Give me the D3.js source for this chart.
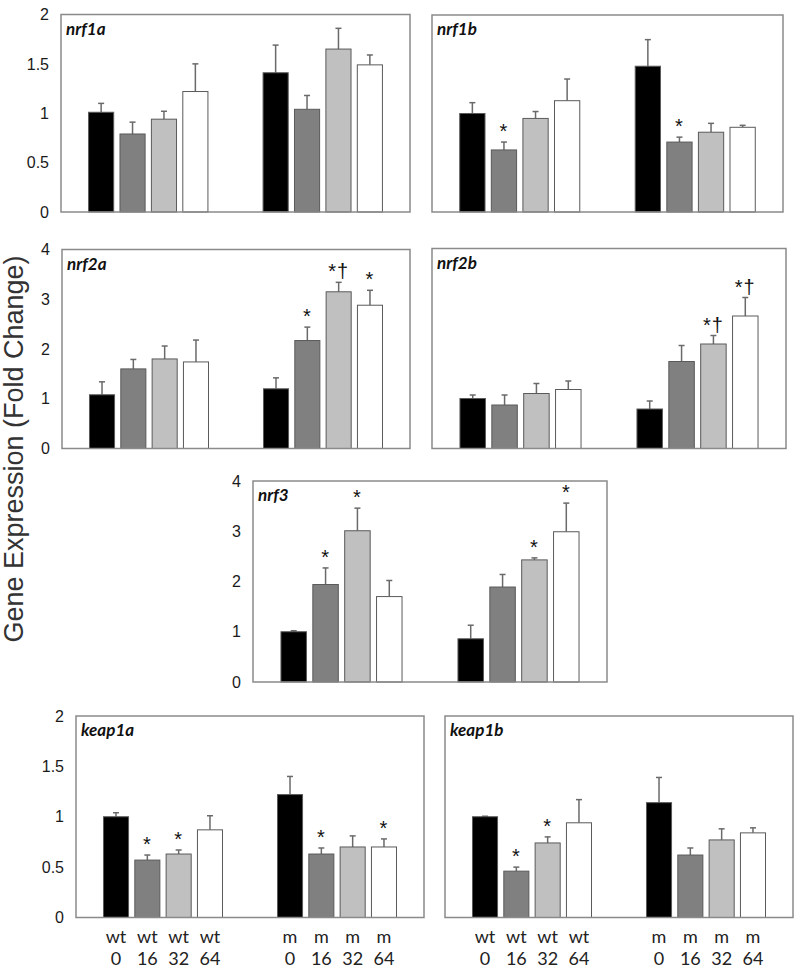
<!DOCTYPE html>
<html>
<head>
<meta charset="utf-8">
<script src="https://cdn.jsdelivr.net/npm/d3@7"></script>
<style>
  body { margin: 0; background: #fff; }
</style>
</head>
<body>
<div id="chart"></div>
<script>
// groups and doses on the x axis
var strains = ["wt", "m"];
var doses = ["0", "16", "32", "64"];

// y tick labels
var ticks2 = [0, 0.5, 1, 1.5, 2];
var ticks4 = [0, 1, 2, 3, 4];

// fold change means (wt 0,16,32,64 then m 0,16,32,64), upper error and marks
var nrf1aMean = [1.01, 0.79, 0.94, 1.22, 1.41, 1.04, 1.65, 1.49];
var nrf1aErr  = [0.09, 0.12, 0.08, 0.28, 0.28, 0.14, 0.21, 0.10];
var nrf1aSig  = ["", "", "", "", "", "", "", ""];

var nrf1bMean = [1.00, 0.63, 0.95, 1.13, 1.48, 0.71, 0.81, 0.86];
var nrf1bErr  = [0.11, 0.08, 0.07, 0.22, 0.27, 0.05, 0.09, 0.02];
var nrf1bSig  = ["", "*", "", "", "", "*", "", ""];

var nrf2aMean = [1.08, 1.60, 1.80, 1.74, 1.20, 2.17, 3.15, 2.88];
var nrf2aErr  = [0.26, 0.19, 0.26, 0.44, 0.22, 0.27, 0.19, 0.30];
var nrf2aSig  = ["", "", "", "", "", "*", "*†", "*"];

var nrf2bMean = [1.00, 0.87, 1.10, 1.18, 0.79, 1.74, 2.09, 2.65];
var nrf2bErr  = [0.07, 0.20, 0.20, 0.17, 0.16, 0.32, 0.17, 0.37];
var nrf2bSig  = ["", "", "", "", "", "", "*†", "*†"];

var nrf3Mean  = [1.00, 1.94, 3.01, 1.70, 0.86, 1.89, 2.43, 2.99];
var nrf3Err   = [0.02, 0.33, 0.45, 0.32, 0.27, 0.25, 0.04, 0.57];
var nrf3Sig   = ["", "*", "*", "", "", "", "*", "*"];

var keap1aMean = [1.00, 0.57, 0.63, 0.87, 1.22, 0.63, 0.70, 0.70];
var keap1aErr  = [0.04, 0.05, 0.04, 0.14, 0.18, 0.06, 0.11, 0.08];
var keap1aSig  = ["", "*", "*", "", "", "*", "", "*"];

var keap1bMean = [1.00, 0.46, 0.74, 0.94, 1.14, 0.62, 0.77, 0.84];
var keap1bErr  = [0.005, 0.04, 0.06, 0.23, 0.25, 0.07, 0.11, 0.05];
var keap1bSig  = ["", "*", "*", "", "", "", "", ""];

var fills = ["#000000", "#808080", "#c0c0c0", "#ffffff"];

// where each panel sits on the page
var panels = [
  {gene: "nrf1a", mean: nrf1aMean, err: nrf1aErr, sig: nrf1aSig, ticks: ticks2, left: 61, top: 14.5, w: 349, h: 197.5, axis: true, labels: false},
  {gene: "nrf1b", mean: nrf1bMean, err: nrf1bErr, sig: nrf1bSig, ticks: ticks2, left: 432, top: 15, w: 351, h: 197, axis: false, labels: false},
  {gene: "nrf2a", mean: nrf2aMean, err: nrf2aErr, sig: nrf2aSig, ticks: ticks4, left: 62, top: 249.5, w: 348, h: 199, axis: true, labels: false},
  {gene: "nrf2b", mean: nrf2bMean, err: nrf2bErr, sig: nrf2bSig, ticks: ticks4, left: 432, top: 248.5, w: 354, h: 200, axis: false, labels: false},
  {gene: "nrf3", mean: nrf3Mean, err: nrf3Err, sig: nrf3Sig, ticks: ticks4, left: 253, top: 481, w: 354, h: 201, axis: true, labels: false},
  {gene: "keap1a", mean: keap1aMean, err: keap1aErr, sig: keap1aSig, ticks: ticks2, left: 76, top: 716, w: 348, h: 201.5, axis: true, labels: true},
  {gene: "keap1b", mean: keap1bMean, err: keap1bErr, sig: keap1bSig, ticks: ticks2, left: 445, top: 716, w: 348, h: 201.5, axis: false, labels: true}
];

var svg = d3.select("#chart")
  .append("svg")
    .attr("width", 800)
    .attr("height", 970);

panels.forEach(function(p) {
  var g = svg.append("g")
    .attr("transform", "translate(" + p.left + "," + p.top + ")");

  var y = d3.scaleLinear()
    .domain([0, p.ticks[p.ticks.length - 1]])
    .range([p.h, 0]);

  var x0 = d3.scaleBand()
    .domain(strains)
    .range([0, p.w])
    .paddingInner(0.28)
    .paddingOuter(0.14);

  var x1 = d3.scaleBand()
    .domain(doses)
    .range([0, x0.bandwidth()])
    .paddingInner(0.2)
    .paddingOuter(0.1);

  var rows = d3.cross(strains, doses).map(function(c, i) {
    return {strain: c[0], dose: c[1], i: i, mean: p.mean[i], err: p.err[i], sig: p.sig[i]};
  });

  function cx(d) { return x0(d.strain) + x1(d.dose) + x1.bandwidth() / 2; }

  if (p.axis) {
    var ax = g.append("g")
      .call(d3.axisLeft(y).tickValues(p.ticks).tickSize(0).tickPadding(12).tickFormat(d3.format("")));
    ax.select(".domain").remove();
    ax.selectAll("text")
      .style("font-family", "'Liberation Sans', Arial, sans-serif")
      .style("font-size", "16px")
      .attr("fill", "#1a1a1a");
  }

  // error bars (upper only)
  var eb = g.selectAll(".err")
    .data(rows)
    .enter()
    .append("g");
  eb.append("line")
    .attr("x1", cx).attr("x2", cx)
    .attr("y1", function(d) { return y(d.mean); })
    .attr("y2", function(d) { return y(d.mean + d.err); })
    .attr("stroke", "#6a6a6a")
    .attr("stroke-width", 1.5);
  eb.append("line")
    .attr("x1", function(d) { return cx(d) - 3; })
    .attr("x2", function(d) { return cx(d) + 3; })
    .attr("y1", function(d) { return y(d.mean + d.err); })
    .attr("y2", function(d) { return y(d.mean + d.err); })
    .attr("stroke", "#6a6a6a")
    .attr("stroke-width", 1.5);

  g.selectAll("rect.bar")
    .data(rows)
    .enter()
    .append("rect")
      .attr("class", "bar")
      .attr("x", function(d) { return x0(d.strain) + x1(d.dose); })
      .attr("y", function(d) { return y(d.mean); })
      .attr("width", x1.bandwidth())
      .attr("height", function(d) { return p.h - y(d.mean); })
      .attr("fill", function(d) { return fills[d.i % 4]; })
      .attr("stroke", "#5a5a5a")
      .attr("stroke-width", 1);

  // significance marks
  g.selectAll(".sig")
    .data(rows.filter(function(d) { return d.sig != ""; }))
    .enter()
    .append("text")
      .attr("x", cx)
      .attr("y", function(d) { return y(d.mean + d.err) - 4; })
      .attr("text-anchor", "middle")
      .style("font-family", "'Liberation Sans', Arial, sans-serif")
      .style("font-size", "20px")
      .style("letter-spacing", "1px")
      .attr("fill", "#111")
      .text(function(d) { return d.sig; });

  // frame
  g.append("rect")
    .attr("width", p.w)
    .attr("height", p.h)
    .attr("fill", "none")
    .attr("stroke", "#8a8a8a")
    .attr("stroke-width", 1.5);

  g.append("text")
    .attr("x", 5)
    .attr("y", 20)
    .style("font-family", "Lato, 'Open Sans', sans-serif")
    .style("font-weight", "bold")
    .style("font-style", "italic")
    .style("font-size", "17px")
    .attr("fill", "#111")
    .text(p.gene);

  if (p.labels) {
    var lab = g.selectAll(".xlab")
      .data(rows)
      .enter()
      .append("text")
        .attr("text-anchor", "middle")
        .style("font-family", "Lato, 'Open Sans', sans-serif")
        .style("font-size", "18px")
        .attr("fill", "#222");
    lab.append("tspan")
      .attr("x", cx)
      .attr("y", p.h + 25)
      .text(function(d) { return d.strain; });
    lab.append("tspan")
      .attr("x", cx)
      .attr("y", p.h + 47)
      .text(function(d) { return d.dose; });
  }
});

svg.append("text")
  .attr("transform", "translate(23,449) rotate(-90)")
  .attr("text-anchor", "middle")
  .style("font-family", "'Liberation Sans', Arial, sans-serif")
  .style("font-size", "27px")
  .attr("fill", "#333")
  .text("Gene Expression (Fold Change)");
</script>
</body>
</html>
